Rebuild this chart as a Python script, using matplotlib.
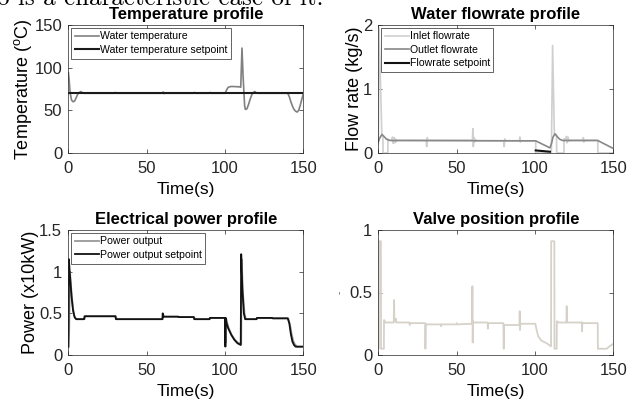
"""
Four-panel process response plot (temperature, flowrate, power, valve).
Saves out.png.
"""
import matplotlib
matplotlib.use('Agg')
import matplotlib.pyplot as plt

plt.rcParams['font.family'] = ['Liberation Sans', 'DejaVu Sans']
plt.rcParams['mathtext.fontset'] = 'custom'
plt.rcParams['mathtext.rm'] = 'Liberation Sans'

# ---- data (time in s, value) ----
TEMP_WATER = [
    (0, 94), (0.5, 85), (1, 72), (2, 62), (3, 60), (4, 61), (5, 65), (6, 69),
    (7, 71), (8, 72), (9, 70.5), (10, 70), (29.5, 70), (30, 71), (30.5, 70),
    (60, 70), (60.5, 71.5), (61, 69.5), (61.5, 70), (80, 70), (80.5, 71),
    (81, 70), (90, 70), (90.5, 71), (91, 70), (100, 70), (101, 74), (102, 77),
    (104, 78), (109.5, 77.5), (110, 77), (110.8, 123), (111.5, 90),
    (112.5, 55), (113, 51), (114, 52), (115, 57), (116, 63), (117, 68),
    (118, 71), (119, 72), (120, 70.5), (121, 70), (140, 70), (141, 66),
    (142, 60), (143, 55), (144, 51), (145, 49), (146, 48), (147, 50),
    (148, 56), (149, 63), (150, 70),
]
TEMP_SETPOINT = [(0, 70), (150, 70)]

FLOW_INLET = [
    (0, 0.15), (0.3, 1.95), (0.9, 1.5), (2.2, 0.28), (2.9, 0.25), (2.95, 0),
    (6.0, 0), (6.1, 0.22), (7, 0.2), (8.5, 0.2), (9, 0.25), (9.5, 0.15),
    (10, 0.24), (10.5, 0.16), (11, 0.22), (11.5, 0.18), (12, 0.2),
    (30.5, 0.2), (30.8, 0.1), (31.2, 0.24), (31.6, 0.2), (60, 0.2),
    (60.3, 0.38), (60.6, 0.1), (61, 0.24), (61.5, 0.17), (62, 0.21),
    (62.5, 0.19), (80, 0.19), (80.3, 0.1), (80.7, 0.22), (81, 0.19),
    (90, 0.19), (90.3, 0.25), (90.6, 0.17), (91, 0.19), (100.4, 0.19),
    (100.5, 0), (110.4, 0), (111.2, 1.68), (112.3, 0.3), (113.7, 0.28),
    (113.8, 0), (118.4, 0), (118.5, 0.22), (119, 0.2), (120, 0.26),
    (120.5, 0.16), (121, 0.25), (121.5, 0.19), (122, 0.2), (130.5, 0.2),
    (130.8, 0.24), (131.1, 0.17), (131.5, 0.2), (140, 0.2), (140.1, 0),
    (150, 0),
]
FLOW_OUTLET = [
    (0, 0.18), (1, 0.24), (2.3, 0.29), (3.5, 0.26), (5, 0.22), (6.6, 0.2),
    (8, 0.195), (100.4, 0.19), (109.5, 0.08), (110.5, 0.15), (111.5, 0.25),
    (112.7, 0.3), (114, 0.26), (115.5, 0.22), (117, 0.2), (118, 0.195),
    (140, 0.195), (150, 0.07),
]
FLOW_SETPOINT = [(100.4, 0.04), (109.5, 0.02)]

POWER_OUT = [
    (0, 0.1), (0.5, 0.3), (1, 1.0), (1.8, 0.8), (2.8, 0.58), (3.8, 0.47),
    (5, 0.43), (10.3, 0.43), (10.8, 0.465), (30.3, 0.465), (30.8, 0.43),
    (60.2, 0.43), (60.5, 0.49), (61, 0.46), (70.3, 0.46), (70.8, 0.455),
    (80.3, 0.455), (80.8, 0.43), (90.3, 0.43), (90.8, 0.445), (100.3, 0.445),
    (100.5, 0.15), (100.8, 0.43), (102, 0.34), (104, 0.25), (106, 0.19),
    (108, 0.15), (110.3, 0.13), (110.6, 1.15), (111.4, 0.75), (112.4, 0.5),
    (113.3, 0.43), (120.3, 0.43), (120.8, 0.445), (130.3, 0.445),
    (130.8, 0.44), (140.3, 0.44), (141.5, 0.36), (142.5, 0.25),
    (143.5, 0.17), (144.5, 0.13), (146, 0.1), (150, 0.1),
]
POWER_SETPOINT = [
    (0, 0.1), (0.3, 1.15), (1, 0.95), (2, 0.7), (3, 0.53), (4, 0.45),
    (5, 0.43), (10, 0.43), (10.3, 0.465), (30, 0.465), (30.3, 0.43),
    (60, 0.43), (60.2, 0.5), (60.6, 0.46), (70, 0.46), (70.3, 0.455),
    (80, 0.455), (80.3, 0.43), (90, 0.43), (90.3, 0.445), (100, 0.445),
    (100.2, 0.1), (100.4, 0.445), (101, 0.38), (102, 0.32), (104, 0.24),
    (106, 0.18), (108, 0.14), (110, 0.12), (110.3, 1.21), (111, 0.8),
    (112, 0.5), (112.8, 0.43), (120, 0.43), (120.3, 0.445), (130, 0.445),
    (130.3, 0.44), (140, 0.44), (141, 0.38), (142, 0.25), (143, 0.16),
    (144, 0.12), (145, 0.1), (150, 0.1),
]

VALVE = [
    (0, 0.05), (0.3, 0.05), (0.4, 0.91), (1.6, 0.91), (1.7, 0.05),
    (3.5, 0.05), (3.6, 0.28), (4.5, 0.26), (9.8, 0.26), (10, 0.44),
    (10.2, 0.27), (11, 0.27), (11.2, 0.29), (11.5, 0.26), (19.8, 0.26),
    (20, 0.24), (20.3, 0.255), (29.9, 0.255), (30, 0.05), (30.2, 0.24),
    (30.4, 0.245), (39.8, 0.245), (40, 0.23), (40.3, 0.245), (49.8, 0.245),
    (50, 0.255), (50.3, 0.245), (59.8, 0.25), (60, 0.55), (60.2, 0.1),
    (60.4, 0.27), (60.8, 0.26), (69.7, 0.26), (69.9, 0.21), (70.1, 0.255),
    (79.8, 0.255), (80, 0.05), (80.2, 0.24), (80.4, 0.24), (90, 0.24),
    (90.2, 0.35), (90.4, 0.2), (90.6, 0.25), (100.2, 0.25), (101, 0.2),
    (102, 0.15), (104, 0.115), (107.4, 0.094), (109.5, 0.075),
    (110.2, 0.07), (110.3, 0.91), (112.3, 0.91), (112.4, 0.05),
    (113.8, 0.05), (113.9, 0.27), (115, 0.26), (120, 0.26), (120.2, 0.39),
    (120.4, 0.26), (129.8, 0.26), (130, 0.19), (130.2, 0.26), (130.4, 0.255),
    (140, 0.255), (140.1, 0.05), (145.7, 0.05), (147.6, 0.07), (150, 0.09),
]

XTICKS = [0, 50, 100, 150]

AX_COLOR = '#262626'
TICK_SIZE = 12
XLABEL_SIZE = 12.5
YLABEL_SIZE = 13
TITLE_SIZE = 12
LEGEND_SIZE = 7.6


def _xy(points):
    return [p[0] for p in points], [p[1] for p in points]


def _format_axes(ax, title, ylabel, ylim, yticks):
    ax.set_xlim(0, 150)
    ax.set_ylim(*ylim)
    ax.set_xticks(XTICKS)
    ax.set_yticks(yticks)
    ax.set_title(title, fontsize=TITLE_SIZE, weight='bold', pad=4)
    ax.set_xlabel('Time(s)', fontsize=XLABEL_SIZE, labelpad=4)
    ax.set_ylabel(ylabel, fontsize=YLABEL_SIZE, labelpad=0)
    ax.tick_params(direction='in', length=3, width=0.5, top=True, right=True,
                   labelsize=TICK_SIZE, colors=AX_COLOR)
    ax.tick_params(axis='x', pad=6)
    ax.tick_params(axis='y', pad=4.5)
    for s in ax.spines.values():
        s.set_color(AX_COLOR)
        s.set_linewidth(0.5)


def _legend(ax):
    leg = ax.legend(loc='upper left', fontsize=LEGEND_SIZE, fancybox=False,
                    edgecolor=AX_COLOR, framealpha=1, handlelength=2.3,
                    handletextpad=0.05, borderpad=0.35, labelspacing=0.33,
                    borderaxespad=0.25)
    leg.get_frame().set_linewidth(0.5)


fig = plt.figure(figsize=(6.42, 4.04), dpi=100)
W, H = 642.0, 404.0
ax_temp = fig.add_axes([68.4 / W, 1 - 153 / H, 235 / W, 128 / H])
ax_flow = fig.add_axes([378.4 / W, 1 - 153 / H, 235 / W, 128 / H])
ax_pow = fig.add_axes([68.4 / W, 1 - 355 / H, 235 / W, 125 / H])
ax_valve = fig.add_axes([378.4 / W, 1 - 355 / H, 235 / W, 125 / H])

# temperature
ax_temp.plot(*_xy(TEMP_WATER), color='#808080', lw=1.2, label='Water temperature')
ax_temp.plot(*_xy(TEMP_SETPOINT), color='#1a1a1a', lw=1.5,
             label='Water temperature setpoint')
_format_axes(ax_temp, 'Temperature profile', r'Temperature ($^{\mathrm{o}}$C)',
             (0, 150), [0, 50, 100, 150])
_legend(ax_temp)

# flowrate
ax_flow.plot(*_xy(FLOW_INLET), color='#cfcfcf', lw=1.2, label='Inlet flowrate')
ax_flow.plot(*_xy(FLOW_OUTLET), color='#888888', lw=1.2, label='Outlet flowrate')
ax_flow.plot(*_xy(FLOW_SETPOINT), color='#111111', lw=1.5, label='Flowrate setpoint')
_format_axes(ax_flow, 'Water flowrate profile', 'Flow rate (kg/s)', (0, 2), [0, 1, 2])
_legend(ax_flow)

# power
ax_pow.plot(*_xy(POWER_OUT), color='#999999', lw=1.3, label='Power output')
ax_pow.plot(*_xy(POWER_SETPOINT), color='#111111', lw=1.3,
            label='Power output setpoint')
_format_axes(ax_pow, 'Electrical power profile', 'Power (x10kW)', (0, 1.5),
             [0, 0.5, 1, 1.5])
ax_pow.set_yticklabels(['0', '0.5', '1', '1.5'])
_legend(ax_pow)

# valve
ax_valve.plot(*_xy(VALVE), color='#d6d2ca', lw=1.3)
_format_axes(ax_valve, 'Valve position profile', '-', (0, 1), [0, 0.5, 1])
ax_valve.set_yticklabels(['0', '0.5', '1'])
ax_valve.yaxis.label.set_fontsize(7)
ax_valve.yaxis.label.set_color('#555555')
ax_valve.yaxis.labelpad = 3

# cut-off line of body text above the figure
fig.text(-0.004, 1 - 5 / H, 'o is a characteristic case of it.', family='cmr10',
         fontsize=18, va='baseline', ha='left')

fig.savefig('out.png', dpi=100)
